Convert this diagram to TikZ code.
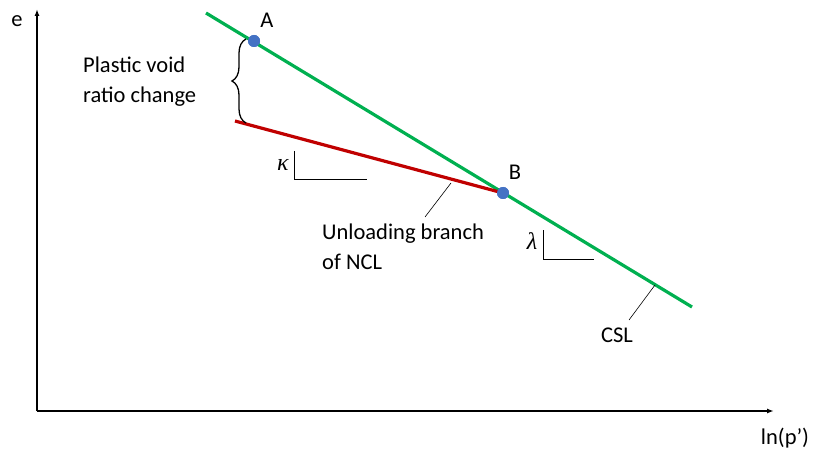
\documentclass[tikz,border=0pt]{standalone}
\usepackage{fontspec}
\setmainfont{Carlito}
\newfontfamily\grk{Liberation Serif}
\usetikzlibrary{arrows.meta,decorations.pathreplacing}
\definecolor{cslgreen}{HTML}{00B050}
\definecolor{nclred}{HTML}{C00000}
\definecolor{ptblue}{HTML}{4472C4}
\begin{document}
\begin{tikzpicture}[x=1pt,y=-1pt,
  lbl/.style={font=\fontsize{22.5}{30}\selectfont, inner sep=0pt},
  glbl/.style={font=\fontsize{24}{30}\selectfont\grk\itshape, inner sep=0pt},
  pt/.style={circle, fill=ptblue, minimum size=12pt, inner sep=0pt},
  axis/.style={line width=1.4pt, -{Latex[length=7pt,width=5pt]}},
  leader/.style={line width=0.6pt},
  slope/.style={line width=0.6pt}]
\useasboundingbox (0,0) rectangle (816,457);
% axes
\coordinate (O) at (37,411);
\coordinate (ytop) at (37,9);
\coordinate (xend) at (774,411);
\draw[axis] (O) -- (ytop);
\draw[axis] (O) -- (xend);
\node[lbl] (e) at (17,21) {e};
\node[lbl] (lnp) at (785,438) {ln(p’)};
% lines
\coordinate (g1) at (206,13);
\coordinate (g2) at (692,307);
\coordinate (r1) at (235,121);
\node[pt] (B) at (503,193) {};
\node[pt] (A) at (254,41) {};
\draw[cslgreen, line width=3.2pt] (g1) -- (g2);
\draw[nclred, line width=3.2pt] (r1) -- (B.center);
\node[pt] at (B) {};
\node[pt] at (A) {};
\node[lbl] (Alab) at (267,20) {A};
\node[lbl] (Blab) at (515,172) {B};
% brace
\coordinate (b1) at (246,123);
\coordinate (b2) at (246,39);
\draw[line width=1.3pt, decorate, decoration={brace, amplitude=14pt, aspect=0.5}] (b1) -- (b2);
\node[lbl, align=left, anchor=west] (plastic) at (83,82) {Plastic void\\ratio change};
% kappa slope
\node[glbl] (kappa) at (283,165) {κ};
\coordinate (k1) at (294,151);
\coordinate (k2) at (294,179);
\coordinate (k3) at (367,179);
\draw[slope] (k1) -- (k2) -- (k3);
% lambda slope
\node[glbl] (lambda) at (532,241) {λ};
\coordinate (l1) at (543,230);
\coordinate (l2) at (543,259);
\coordinate (l3) at (594,259);
\draw[slope] (l1) -- (l2) -- (l3);
% unloading label
\coordinate (u1) at (451,183);
\coordinate (u2) at (425,217);
\draw[leader] (u1) -- (u2);
\node[lbl, align=left, anchor=west] (unl) at (322,247) {Unloading branch\\of NCL};
% CSL label
\coordinate (c1) at (655,285);
\coordinate (c2) at (629,320);
\draw[leader] (c1) -- (c2);
\node[lbl] (csl) at (617,335) {CSL};
\end{tikzpicture}
\end{document}
